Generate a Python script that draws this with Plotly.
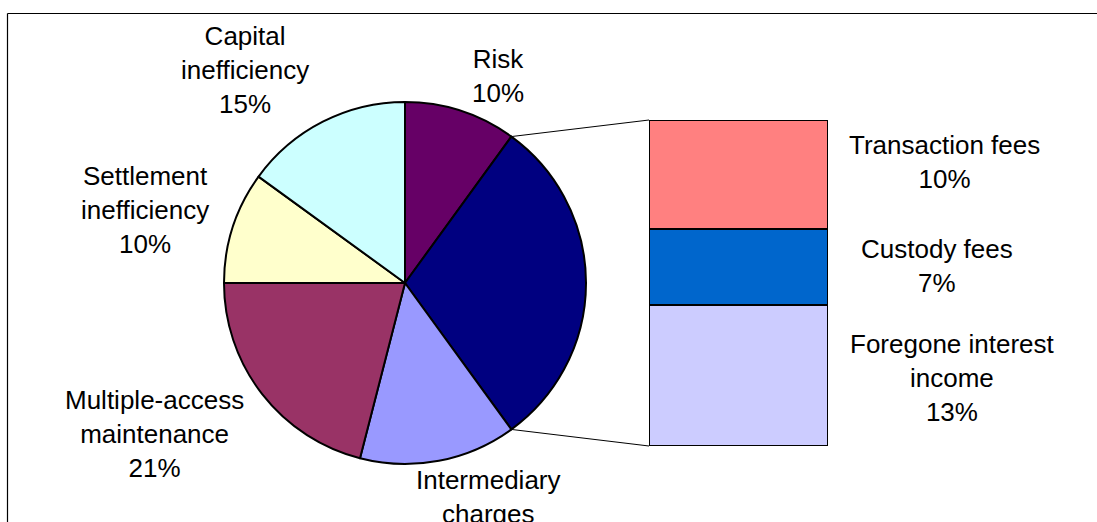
import math
import plotly.graph_objects as go

# ---- data ----
pie_labels = ["Risk", "Other costs", "Intermediary charges", "Multiple-access maintenance",
              "Settlement inefficiency", "Capital inefficiency"]
bar_labels = ["Foregone interest income", "Custody fees", "Transaction fees"]
bar_values = [13, 7, 10]
pie_values = [10, sum(bar_values), 14, 21, 10, 15]
pie_colors = ["#660066", "#000080", "#9999FF", "#993366", "#FFFFCC", "#CCFFFF"]
bar_colors = ["#CCCCFF", "#0066CC", "#FF8080"]
pie_text = ["Risk<br>10%", None, "Intermediary<br>charges<br>14%",
            "Multiple-access<br>maintenance<br>21%", "Settlement<br>inefficiency<br>10%",
            "Capital<br>inefficiency<br>15%"]
bar_text = ["Foregone interest<br>income<br>13%", "Custody fees<br>7%", "Transaction fees<br>10%"]

W, H = 1097, 522
FONT = "Arial, Liberation Sans, sans-serif"


def px_x(p):
    return p / W


def px_y(p):
    return (H - p) / H


# pie placement (page pixels)
cx, cy, r = 405, 283, 181
# bar placement (page pixels)
bx0, bx1, by_top, by_bot = 649, 828, 120, 446

fig = go.Figure()

fig.add_trace(go.Pie(
    labels=pie_labels, values=pie_values, sort=False, direction="clockwise", rotation=0,
    marker=dict(colors=pie_colors, line=dict(color="black", width=2)),
    textinfo="none", hoverinfo="label+percent", showlegend=False,
    domain=dict(x=[px_x(cx - r), px_x(cx + r)], y=[px_y(cy + r), px_y(cy - r)]),
))

for lab, val, col in zip(bar_labels, bar_values, bar_colors):
    fig.add_trace(go.Bar(
        x=["Other costs"], y=[val], name=lab,
        marker=dict(color=col, line=dict(color="black", width=2)),
        width=1, xaxis="x", yaxis="y", showlegend=False,
    ))

total_bar = sum(bar_values)
fig.update_layout(
    width=W, height=H, margin=dict(l=0, r=0, t=0, b=0),
    paper_bgcolor="white", plot_bgcolor="rgba(0,0,0,0)",
    barmode="stack", bargap=0,
    xaxis=dict(domain=[px_x(bx0), px_x(bx1)], range=[-0.5, 0.5], visible=False, fixedrange=True),
    yaxis=dict(domain=[px_y(by_bot), px_y(by_top)], range=[0, total_bar], visible=False,
               fixedrange=True),
    font=dict(family=FONT, color="black"),
)

# connector lines: from the edges of the "Other costs" slice to the bar corners
tot = sum(pie_values)
a0 = 2 * math.pi * pie_values[0] / tot
a1 = 2 * math.pi * (pie_values[0] + pie_values[1]) / tot
for ang, byp in [(a0, by_top), (a1, by_bot)]:
    ppx = cx + r * math.sin(ang)
    ppy = cy - r * math.cos(ang)
    fig.add_shape(type="line", xref="paper", yref="paper",
                  x0=px_x(ppx), y0=px_y(ppy), x1=px_x(bx0), y1=px_y(byp),
                  line=dict(color="black", width=1))

# outer frame: only the top and left edges are visible
fig.add_shape(type="line", xref="paper", yref="paper", x0=px_x(7.5), y0=px_y(13.5),
              x1=1.0, y1=px_y(13.5), line=dict(color="black", width=1.2))
fig.add_shape(type="line", xref="paper", yref="paper", x0=px_x(7.5), y0=px_y(13.5),
              x1=px_x(7.5), y1=0.0, line=dict(color="black", width=1.2))

# labels (page pixel centres)
pie_label_pos = [(498, 76), None, (488, 514), (154, 434), (145, 210), (245, 70)]
bar_label_pos = [(952, 378), (937, 266), (944, 162)]
for txt, pos in list(zip(pie_text, pie_label_pos)) + list(zip(bar_text, bar_label_pos)):
    if txt is None:
        continue
    fig.add_annotation(x=px_x(pos[0]), y=px_y(pos[1]), xref="paper", yref="paper",
                       text=txt, showarrow=False, xanchor="center", yanchor="middle",
                       align="center", font=dict(family=FONT, size=26, color="black"))

# remove the default 8px page margin so the figure sits at the window's top-left corner
fig.write_html("out.html", config={"displayModeBar": False},
               post_script="document.body.style.margin='0';document.body.style.overflow='hidden';")
